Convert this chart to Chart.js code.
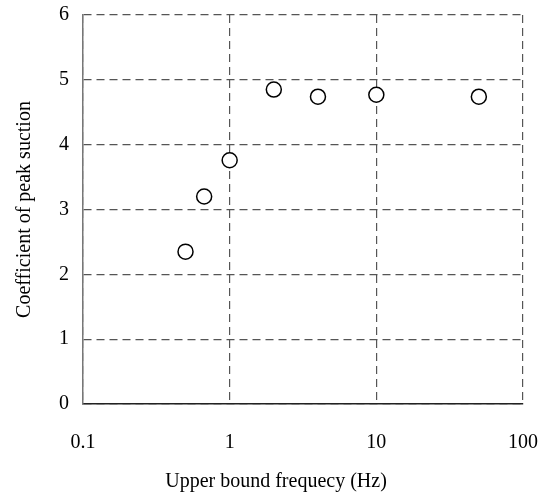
<!DOCTYPE html>
<html>
<head>
<meta charset="utf-8">
<script src="https://cdn.jsdelivr.net/npm/chart.js@4/dist/chart.umd.min.js"></script>
<style>
  html, body { margin: 0; padding: 0; background: #fff; }
  #wrap { width: 547px; height: 500px; }
</style>
</head>
<body>
<div id="wrap"><canvas id="chart" width="547" height="500"></canvas></div>
<script>
// Upper bound frequency (Hz) vs coefficient of peak suction
const frequencies = [0.5, 0.67, 1, 2, 4, 10, 50];
const peakSuction = [2.35, 3.2, 3.76, 4.85, 4.74, 4.77, 4.74];
const xTicks = [0.1, 1, 10, 100];
const yTicks = [0, 1, 2, 3, 4, 5, 6];

const FONT = 'Liberation Serif, Times New Roman, serif';

new Chart(document.getElementById('chart'), {
  type: 'scatter',
  data: {
    datasets: [{
      data: frequencies.map((f, i) => ({ x: f, y: peakSuction[i] })),
      pointRadius: 7.5,
      pointBackgroundColor: '#fff',
      pointBorderColor: '#000',
      pointBorderWidth: 1.5
    }]
  },
  options: {
    responsive: false,
    animation: false,
    // left padding is wide to centre the x title; y title pulls back with negative padding
    layout: { padding: { top: 15, right: 24, left: 29, bottom: 6 } },
    plugins: {
      legend: { display: false },
      tooltip: { enabled: false },
      // x title sits centred on the page, not on the plot box
      title: {
        display: true,
        position: 'bottom',
        text: 'Upper bound frequecy (Hz)',
        color: '#000',
        font: { family: FONT, size: 20, weight: 'normal' },
        padding: { top: -12, bottom: 0 }
      }
    },
    scales: {
      x: {
        type: 'logarithmic',
        min: 0.1,
        max: 100,
        afterBuildTicks: (axis) => {
          axis.ticks = xTicks.map(v => ({ value: v }));
        },
        // let the edge labels overhang, layout padding sets the plot box
        afterFit: (axis) => {
          axis.paddingLeft = 0;
          axis.paddingRight = 0;
        },
        ticks: {
          color: '#000',
          font: { family: FONT, size: 20 },
          padding: 27,
          maxRotation: 0,
          callback: (v) => String(v)
        },
        grid: {
          color: '#555',
          lineWidth: 1.2,
          drawTicks: false
        },
        // in v4 border.dash dashes the grid lines, the axis line stays solid
        border: { display: true, color: '#222', width: 1.5, dash: [8, 5] }
      },
      y: {
        min: 0,
        max: 6,
        afterBuildTicks: (axis) => {
          axis.ticks = yTicks.map(v => ({ value: v }));
        },
        afterFit: (axis) => {
          axis.paddingTop = 0;
          axis.paddingBottom = 0;
        },
        ticks: {
          color: '#000',
          font: { family: FONT, size: 20 },
          padding: 14
        },
        grid: {
          color: '#555',
          lineWidth: 1.2,
          drawTicks: false
        },
        border: { display: true, color: '#777', width: 1.5, dash: [8, 5] },
        title: {
          display: true,
          text: 'Coefficient of peak suction',
          color: '#000',
          font: { family: FONT, size: 20 },
          padding: { top: -16, bottom: 8 }
        }
      }
    }
  }
});
</script>
</body>
</html>
